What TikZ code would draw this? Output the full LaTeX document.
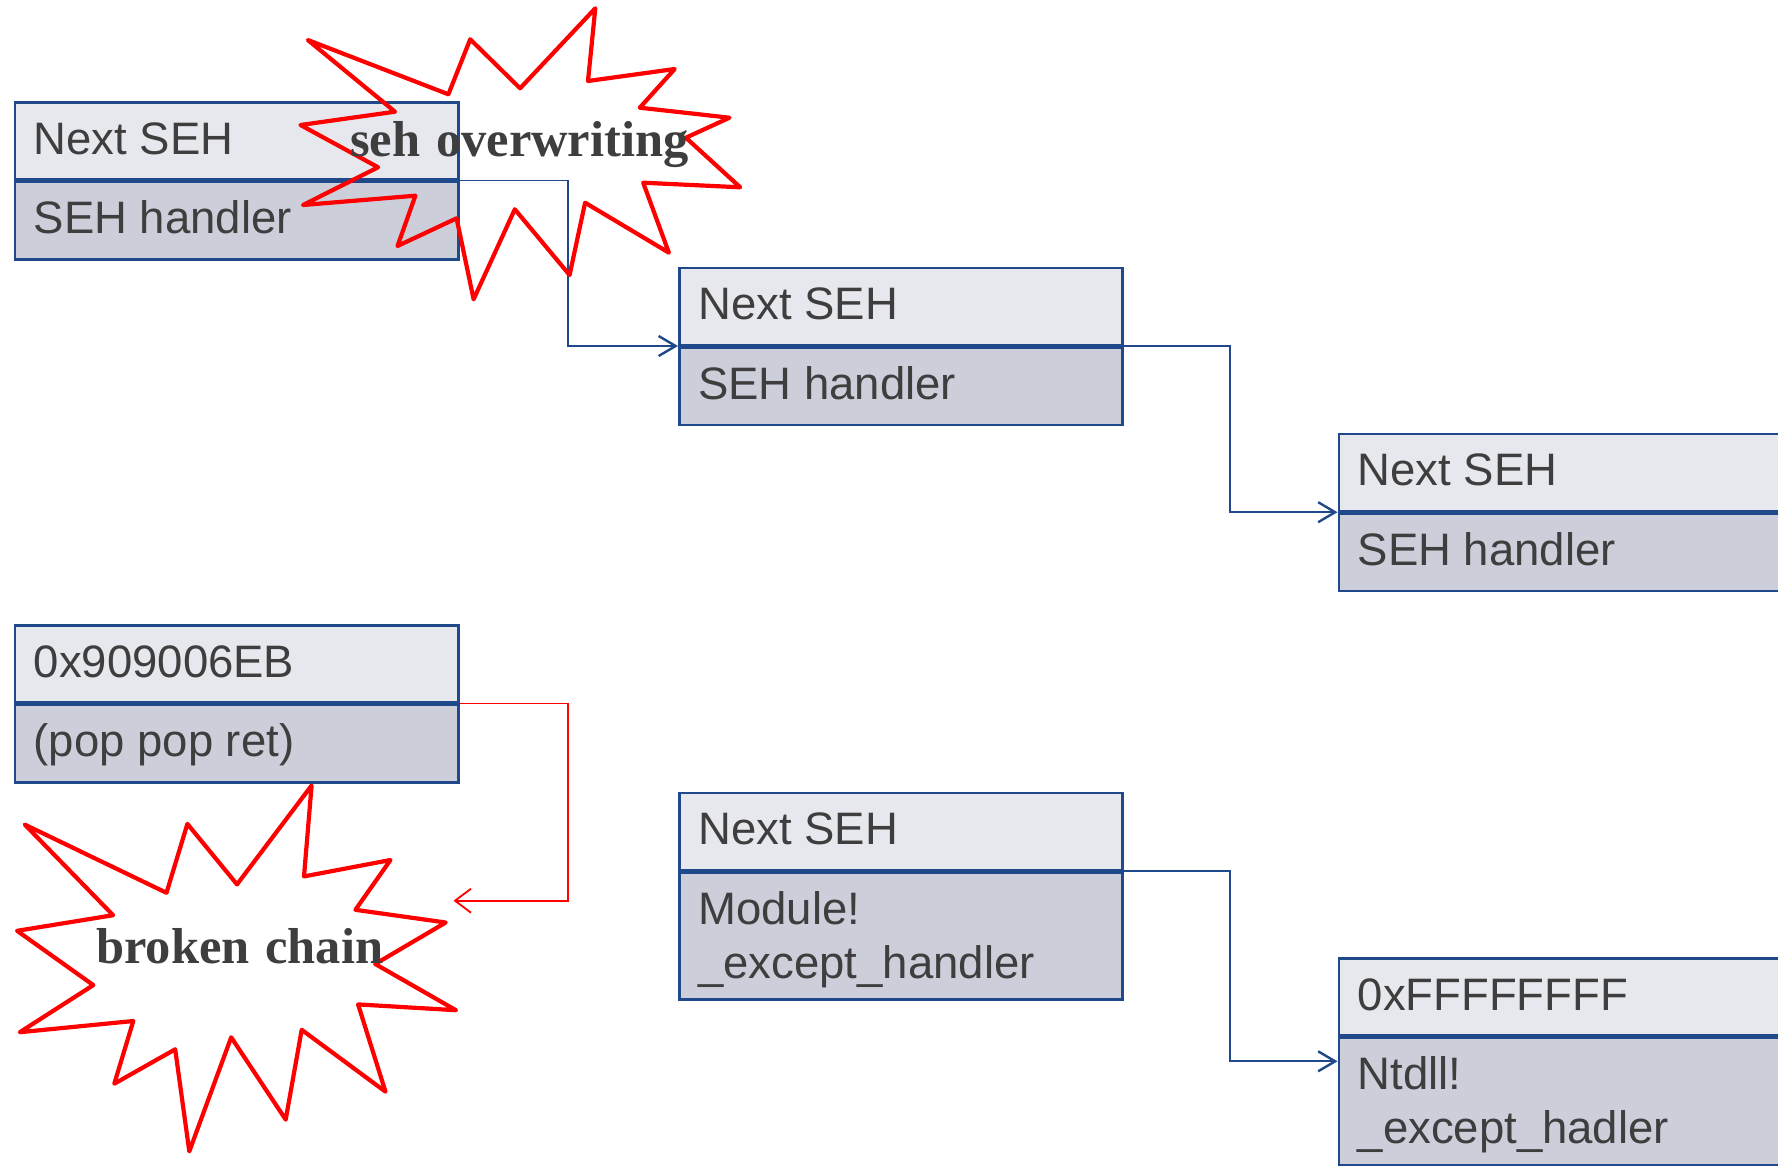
\documentclass[tikz,border=0pt]{standalone}
\usepackage{fontspec}
\usetikzlibrary{arrows.meta}
\newfontfamily\boxfont{Liberation Sans}
\newfontfamily\burstfont[WordSpace=1.25]{Liberation Serif}
\definecolor{boxblue}{RGB}{31,73,138}
\definecolor{toplight}{RGB}{231,232,238}
\definecolor{botgray}{RGB}{204,206,218}
\definecolor{ink}{RGB}{62,62,62}
\definecolor{burstred}{RGB}{255,0,0}
\begin{document}
\begin{tikzpicture}[x=1pt,y=-1pt,
  part/.style={draw=boxblue, line width=2.5pt, minimum width=443.4pt,
    inner sep=0pt, anchor=north west},
  cellup/.style={part, fill=toplight, minimum height=77pt},
  celldown/.style={part, fill=botgray, minimum height=#1},
  celldown/.default=77.5pt,
  entry/.style={anchor=base west, inner sep=0pt, text=ink,
    font=\boxfont\fontsize{45.5}{54}\selectfont},
  link/.style={draw=boxblue, line width=1.8pt,
    -{Straight Barb[length=17pt,width=20pt,line width=2.4pt]}},
  badlink/.style={draw=burstred, line width=1.8pt,
    -{Straight Barb[length=16pt,width=24pt]}},
  burst/.style={draw=burstred, line width=4.2pt, line join=round},
  bursttext/.style={anchor=base west, inner sep=0pt, text=ink,
    font=\burstfont\bfseries\fontsize{50.5}{60}\selectfont}
]
\path[use as bounding box, fill=white] (0,0) rectangle (1778,1165);
\clip (0,0) rectangle (1778,1165);

% ---- exception registration records ----
\node[cellup] (b1top) at (13.6,101) {};
\node[celldown] (b1bot) at (b1top.south west) {};
\node[entry] (b1n) at ([xshift=20pt,yshift=-53pt]b1top.north west) {Next SEH};
\node[entry] (b1h) at ([xshift=20pt,yshift=-53pt]b1bot.north west) {SEH handler};

\node[cellup] (b2top) at (678,266.5) {};
\node[celldown] (b2bot) at (b2top.south west) {};
\node[entry] (b2n) at ([xshift=20pt,yshift=-53pt]b2top.north west) {Next SEH};
\node[entry] (b2h) at ([xshift=20pt,yshift=-53pt]b2bot.north west) {SEH handler};

\node[cellup] (b3top) at (1337.5,432.7) {};
\node[celldown] (b3bot) at (b3top.south west) {};
\node[entry] (b3n) at ([xshift=20pt,yshift=-53pt]b3top.north west) {Next SEH};
\node[entry] (b3h) at ([xshift=20pt,yshift=-53pt]b3bot.north west) {SEH handler};

\node[cellup] (b4top) at (13.6,624) {};
\node[celldown] (b4bot) at (b4top.south west) {};
\node[entry] (b4n) at ([xshift=20pt,yshift=-53pt]b4top.north west) {0x909006EB};
\node[entry] (b4h) at ([xshift=20pt,yshift=-53pt]b4bot.north west) {(pop pop ret)};

\node[cellup] (b5top) at (678,791.6) {};
\node[celldown=127pt] (b5bot) at (b5top.south west) {};
\node[entry] (b5n) at ([xshift=20pt,yshift=-53pt]b5top.north west) {Next SEH};
\node[entry] (b5h) at ([xshift=20pt,yshift=-53pt]b5bot.north west) {Module!};
\node[entry] (b5e) at ([xshift=20pt,yshift=-107pt]b5bot.north west) {\_except\_handler};

\node[cellup] (b6top) at (1337.5,957.3) {};
\node[celldown=127pt] (b6bot) at (b6top.south west) {};
\node[entry] (b6n) at ([xshift=20pt,yshift=-53pt]b6top.north west) {0xFFFFFFFF};
\node[entry] (b6h) at ([xshift=20pt,yshift=-53pt]b6bot.north west) {Ntdll!};
\node[entry] (b6e) at ([xshift=20pt,yshift=-107pt]b6bot.north west) {\_except\_hadler};

% ---- chain links ----
\draw[link] (b1top.south east) -- ++(108.7,0) |- (b2top.south west);
\draw[link] (b2top.south east) -- ++(106,0) |- (b3top.south west);
\draw[link] (b5top.south east) -- ++(106,0) |- ([yshift=-24.5pt]b6bot.north west);
\coordinate (brk) at (453.5,900.7);
\draw[badlink] (b4top.south east) -- ++(108.7,0) |- (brk);

% ---- bursts ----
\draw[burst] (307.8,40) -- (448.4,94.3) -- (470.2,39.3) -- (520.1,88.3)
  -- (595.3,8.3) -- (588,81) -- (674.7,69) -- (639.8,107.7) -- (729.5,117.7)
  -- (685.9,137.7) -- (740.2,187.3) -- (643.2,182.7) -- (668.9,252.7)
  -- (585.1,202.7) -- (569.6,275) -- (514.8,209.3) -- (473.6,299.3)
  -- (456.6,218.3) -- (397.5,246) -- (415.4,195.7) -- (303,205)
  -- (378.1,167.3) -- (300.5,125) -- (395,111.7) -- cycle;
\node[bursttext] (sehtxt) at (350,156) {seh overwriting};

\draw[burst] (24.8,824.6) -- (166.5,892.8) -- (187.4,823.9) -- (237,884.4)
  -- (311.6,785.5) -- (304,876.4) -- (390.5,860) -- (355.4,909.8)
  -- (445.7,922.5) -- (375.2,964) -- (456,1010.2) -- (358.1,1004.4)
  -- (385.5,1091.7) -- (301.7,1029.8) -- (285.7,1119.6) -- (231.2,1037.3)
  -- (189.3,1151.4) -- (175.2,1049.3) -- (114.3,1083.7) -- (133.3,1021)
  -- (19.8,1032.2) -- (93.3,985.1) -- (17.1,930.8) -- (113.1,915.2) -- cycle;
\node[bursttext] (chaintxt) at (96,963.3) {broken chain};
\end{tikzpicture}
\end{document}
